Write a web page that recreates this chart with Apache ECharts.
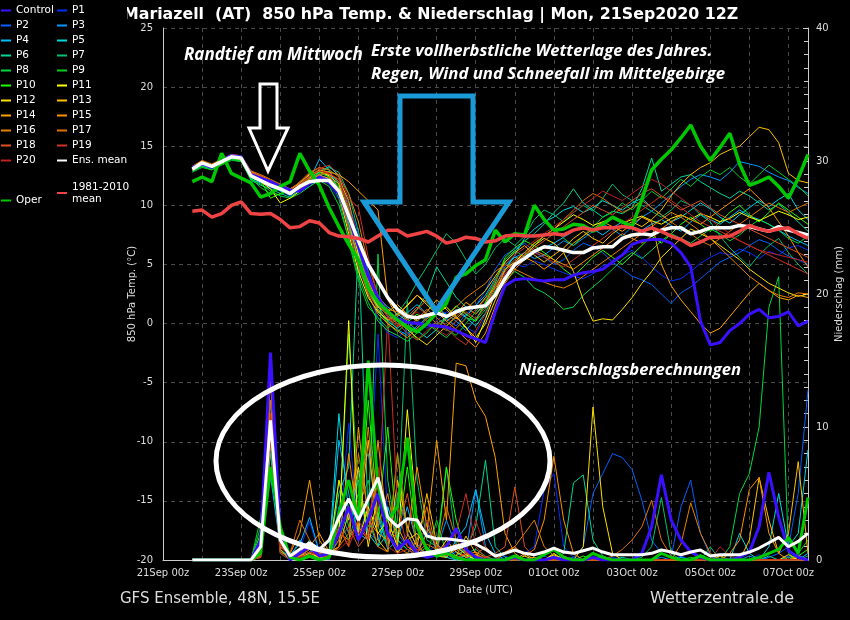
<!DOCTYPE html>
<html>
<head>
<meta charset="utf-8">
<title>Mariazell 850 hPa Temp. & Niederschlag</title>
<script src="https://cdn.jsdelivr.net/npm/echarts@6/dist/echarts.min.js"></script>
<style>
  html, body { margin: 0; padding: 0; background: #000; }
  #container { width: 850px; height: 620px; }
</style>
</head>
<body>
<div id="container"></div>
<script>
// x labels (every 2 days), forecast steps are 6-hourly from 21Sep 18z to 07Oct 12z
var xLabels = ['21Sep 00z', '23Sep 00z', '25Sep 00z', '27Sep 00z', '29Sep 00z',
               '01Oct 00z', '03Oct 00z', '05Oct 00z', '07Oct 00z'];

// 850 hPa temperature (°C)
var tControl = [13.2,13.5,13.2,13.8,14.2,14.1,12.6,12.3,12.0,11.6,
                11.3,11.2,11.9,12.4,12.0,11.0,9.0,6.5,4.0,2.2,
                1.0,0.4,0.1,0.0,-0.1,-0.2,-0.3,-0.6,-1.0,-1.3,
                -1.6,1.0,3.2,3.7,3.8,3.7,3.6,3.7,3.7,4.1,
                4.3,4.4,4.6,5.2,5.8,6.7,7.0,7.1,7.1,6.8,
                6.0,4.8,0.2,-1.8,-1.6,-0.6,0.0,0.8,1.2,0.5,
                0.6,1.0,-0.2,0.2];
var tP1 = [13.0,13.4,13.2,13.6,14.0,13.9, 12.6,12.2,11.9,11.5,11.2,11.4,11.8,12.2,11.8,
           10.5,8.0,5.0,2.5,0.5,-0.8, -1.2,-0.5,0.3,-0.4,0.2,1.0,0.5,-0.3,-0.8,0.5,2.5,
           4.2,5.0,4.8,5.3,5.0,
           4.6,4.3,4.0,3.8,4.2,4.9,5.1,5.8,6.2,5.6,4.8,4.1,3.6,3.8,4.4,5.1,5.6,6.0,5.8,6.3,6.0,5.5,6.1,5.8,6.4,6.6,6.2];
var tP2 = [13.2,13.7,13.4,13.8,14.2,14.1, 12.4,12.0,11.5,11.3,10.8,11.2,11.6,12.3,12.6,
           12.0,10.2,7.5,4.5,2.0,0.8, 0.0,-0.8,-0.4,0.6,1.2,0.4,-0.2,0.8,1.5,2.8,4.6,
           5.8,6.3,6.8,6.1,5.6,
           5.0,5.4,6.2,6.8,6.5,6.0,5.2,4.6,4.0,3.7,3.3,2.5,1.7,2.6,3.1,3.8,4.5,5.2,5.6,6.0,6.6,7.1,6.8,6.2,5.7,5.4,5.0];
var tP3 = [13.1,13.5,13.3,13.7,14.2,14.0, 12.8,12.3,12.0,11.2,11.0,11.7,12.4,12.6,12.2,
           11.5,9.5,6.0,3.0,1.2,0.4, -0.5,-1.0,-0.2,0.5,1.3,0.8,0.2,-0.6,0.4,1.6,3.2,
           4.8,5.6,6.0,5.5,5.8,
           6.4,7.0,6.6,7.2,7.8,8.4,8.0,7.4,8.2,9.0,9.5,10.2,10.9,11.6,12.2,12.6,12.4,12.1,12.8,13.7,13.5,13.3,12.8,12.4,12.1,11.5,11.0];
var tP4 = [13.0,13.4,13.1,13.6,14.0,13.8, 12.2,11.9,11.6,11.2,10.9,11.5,12.2,13.9,13.0,
           11.2,8.2,5.4,3.3,1.8,0.6, 0.2,0.9,1.6,0.8,0.0,0.5,1.2,0.6,1.5,2.4,3.8,
           5.0,5.6,5.4,6.0,6.4,
           6.8,7.3,7.8,8.3,8.0,7.5,8.1,8.6,8.2,7.9,8.4,8.8,8.3,7.8,8.6,9.2,8.8,8.4,9.0,9.6,9.1,8.8,8.4,7.9,7.4,7.0,6.6];
var tP5 = [13.2,13.6,13.3,13.7,14.1,14.0, 12.5,12.2,11.8,11.4,11.0,11.8,12.5,12.8,13.3,
           12.5,9.8,6.8,3.8,2.2,1.4, 0.8,0.2,-0.6,-1.2,-0.5,0.4,1.1,0.5,-0.2,0.9,2.7,
           4.5,5.8,7.2,8.0,8.6,
           9.0,9.6,9.9,9.4,9.8,10.4,10.0,9.6,10.2,10.6,9.8,9.2,8.6,9.0,9.6,10.2,9.7,9.0,8.5,9.2,9.8,10.4,9.9,10.5,11.0,9.6,8.8];
var tP6 = [12.9,13.3,13.1,13.5,13.9,13.8, 12.1,11.7,11.4,11.0,10.7,11.3,11.9,12.5,12.9,
           11.8,9.0,6.0,3.2,1.5,0.2, -0.4,0.4,1.2,2.5,4.8,3.5,2.2,1.4,0.8,1.8,3.6,
           5.2,6.1,7.0,7.6,8.4,
           9.4,10.2,11.4,10.2,9.6,9.0,9.5,9.3,9.8,11.4,14.0,11.2,11.8,12.4,12.6,12.0,11.5,11.0,10.6,11.2,10.8,10.2,9.6,10.1,9.4,8.6,7.8];
var tP7 = [13.1,13.5,13.2,13.6,14.0,13.9, 12.3,12.0,11.8,11.6,11.2,11.6,12.1,12.7,13.2,
           12.8,11.0,7.8,4.2,1.0,0.2, 0.9,2.0,3.5,4.8,6.2,7.6,6.8,5.4,4.2,5.0,6.4,
           7.2,6.6,7.4,8.8,9.6,
           9.2,8.6,9.4,10.0,9.5,10.6,11.8,10.9,10.4,10.0,9.5,9.0,9.6,10.4,10.0,9.2,8.6,7.4,6.4,5.6,4.8,5.8,6.6,7.2,6.0,5.0,4.2];
var tP8 = [12.9,13.3,13.0,13.5,13.9,13.7, 12.2,11.8,11.2,10.8,10.6,11.0,11.6,12.1,11.6,
           10.0,7.2,4.0,1.8,0.2,-0.6, -1.0,-1.5,-0.8,0.0,-0.6,-1.2,-0.4,0.5,0.2,1.2,2.8,
           3.6,4.4,3.9,3.0,2.6,
           2.0,1.2,1.4,2.4,3.1,3.8,4.6,5.4,6.0,5.5,6.2,7.0,7.6,7.2,6.8,7.4,8.0,7.6,7.0,7.5,8.2,8.8,8.4,7.9,7.2,6.8,7.4];
var tP9 = [12.8,13.2,13.0,13.4,13.8,13.7, 12.3,11.5,11.0,10.9,11.3,12.0,12.6,13.0,12.4,
           10.6,7.0,3.6,1.4,0.5,-0.4, 0.5,-0.2,-1.4,-0.8,0.2,-0.5,-1.0,0.0,1.0,2.2,3.6,
           5.4,6.2,5.6,6.6,7.4,
           8.0,7.2,6.6,7.4,8.2,9.0,9.4,10.2,9.6,10.4,11.2,10.6,11.4,12.2,11.6,12.4,13.0,12.6,13.2,12.4,11.8,12.6,13.4,12.8,12.2,11.6,10.8];
var tP10 = [13.0,13.4,13.1,13.5,14.0,13.8, 12.5,12.1,10.6,11.0,11.4,11.8,12.2,12.8,12.4,
            11.6,8.5,5.4,2.8,1.2,0.0, -0.7,0.1,0.8,0.2,-0.5,0.6,1.5,0.8,0.2,1.8,3.4,
            5.6,6.4,7.0,6.6,6.0,
            5.4,4.6,4.0,4.8,5.6,6.2,5.6,5.0,5.8,6.6,7.4,6.8,7.6,8.4,9.0,8.4,7.8,8.6,9.4,10.0,9.2,8.6,9.4,10.2,9.6,9.0,8.4];
var tP11 = [13.1,13.5,13.2,13.6,14.1,13.9, 12.4,12.0,11.4,10.2,10.6,11.2,12.0,12.6,12.0,
            11.0,7.6,4.4,2.2,1.0,0.3, 0.8,1.5,2.4,1.6,0.8,1.4,0.6,-0.3,-1.6,0.4,2.6,
            4.6,5.2,6.0,6.8,7.4,
            8.0,8.6,9.2,8.8,8.3,8.6,8.9,8.5,8.8,9.1,8.7,8.4,8.9,9.2,8.8,9.3,9.0,8.6,8.9,9.4,9.0,8.7,9.1,9.5,9.2,8.8,9.0];
var tP12 = [13.2,13.6,13.4,13.8,14.2,14.0, 12.7,12.3,11.8,11.3,11.1,11.8,12.4,12.9,12.5,
            11.8,9.2,5.8,3.0,1.4,0.8, 0.2,-0.5,-1.2,-1.8,-1.0,-0.2,0.6,-0.4,-1.2,0.0,2.0,
            3.8,5.0,5.8,6.6,7.2,
            6.8,6.0,4.4,2.0,0.2,0.4,0.3,1.2,2.2,3.4,4.4,5.6,6.4,7.2,8.0,7.6,7.2,6.6,6.0,5.4,4.6,4.0,3.4,3.0,2.6,2.3,2.5];
var tP13 = [13.3,13.7,13.4,13.9,14.3,14.1, 12.9,12.4,12.0,11.6,11.3,11.9,12.6,12.9,12.6,
            12.2,10.4,6.4,3.6,1.8,1.0, 1.6,0.8,0.2,1.0,2.0,1.2,0.4,1.2,2.0,2.8,4.0,
            5.2,6.0,6.6,5.8,5.2,
            5.8,6.4,7.2,7.8,7.2,6.8,7.6,8.2,8.6,8.2,8.8,9.6,10.8,11.8,12.6,13.2,13.6,14.3,14.7,15.0,15.8,16.6,16.4,15.3,12.7,12.1,11.9];
var tP14 = [13.2,13.6,13.3,13.8,14.2,14.0, 12.8,12.5,12.1,11.7,11.2,11.5,12.3,13.0,12.8,
            12.6,12.0,11.2,10.4,9.6,2.0, 0.6,1.6,2.4,1.8,1.0,0.2,0.8,1.8,1.2,2.2,3.0,
            4.0,4.8,5.6,5.2,4.6,
            5.2,6.0,6.8,7.4,8.0,8.6,8.2,7.8,8.4,9.0,8.6,5.0,3.2,2.0,1.0,0.0,-0.8,-0.4,0.6,1.6,2.6,3.4,2.8,2.2,2.0,2.4,2.2];
var tP15 = [13.0,13.5,13.2,13.6,14.1,13.9, 12.6,12.2,11.7,11.3,10.9,11.4,12.0,12.5,12.3,
            11.4,8.8,5.2,2.4,0.8,0.0, -0.6,-1.2,-0.4,0.4,1.0,0.2,-0.5,-1.3,-2.0,-0.8,1.5,
            3.4,4.6,5.4,6.2,5.8,
            5.4,5.0,4.6,5.2,5.8,6.4,7.0,7.6,7.2,6.8,7.4,8.0,8.6,9.2,8.8,8.4,9.0,9.6,10.2,10.8,11.4,10.6,9.8,8.6,7.4,6.0,4.8];
var tP16 = [13.3,13.8,13.5,13.9,14.3,14.2, 12.9,12.6,12.2,11.8,11.4,11.9,12.7,13.2,13.0,
            12.4,11.0,8.6,5.0,2.4,1.2, 1.0,0.3,1.2,2.0,1.4,0.6,1.4,2.2,2.8,3.4,4.4,
            5.0,4.6,4.2,3.8,3.5,
            3.2,3.0,3.4,4.0,4.6,5.2,5.8,6.4,7.0,7.6,8.2,8.8,9.4,9.0,8.4,7.8,7.2,6.4,5.6,4.8,4.0,3.4,2.8,2.4,2.2,2.6,2.5];
var tP17 = [13.1,13.6,13.3,13.7,14.1,14.0, 12.7,12.3,11.8,11.4,11.0,11.6,12.2,12.6,12.8,
            12.0,9.6,6.4,3.4,1.6,0.6, 0.0,-0.4,0.4,1.2,0.5,-0.2,0.6,1.4,0.8,1.6,3.2,
            4.6,5.4,6.0,6.8,7.4,
            8.0,8.8,9.6,10.4,11.0,10.6,10.0,9.4,9.8,10.4,9.8,9.2,8.6,8.0,7.6,7.0,6.6,7.2,7.8,8.4,9.0,9.6,10.2,9.8,9.4,9.8,10.2];
var tP18 = [13.2,13.7,13.4,13.8,14.2,14.1, 12.8,12.5,12.0,11.6,11.3,12.0,12.8,13.2,12.6,
            11.0,8.0,4.8,2.6,1.2,0.4, -0.2,0.6,1.4,0.8,0.0,-0.6,0.2,1.0,0.4,1.4,3.0,
            4.4,5.2,5.8,6.4,7.0,
            7.6,8.2,8.8,9.4,10.0,9.6,9.2,9.8,10.4,11.0,11.4,10.8,10.2,9.6,10.0,10.4,9.8,9.2,8.8,8.4,8.0,7.6,7.2,6.8,6.4,6.0,5.6];
var tP19 = [13.0,13.5,13.2,13.6,14.0,13.9, 12.5,12.2,11.9,11.5,11.1,11.7,12.4,13.1,13.4,
            12.6,10.6,9.8,5.6,2.2,0.8, 0.0,-0.8,-1.4,-0.6,0.2,-0.4,-1.2,-1.8,-0.6,0.8,2.6,
            4.2,5.0,5.6,6.0,5.6,
            5.2,4.8,5.4,6.0,6.6,7.2,7.8,8.4,9.0,9.6,10.2,10.8,10.4,9.8,9.2,8.6,8.2,7.8,7.4,7.0,6.6,6.2,5.8,5.4,5.0,4.6,4.2];
var tP20 = [13.1,13.5,13.3,13.7,14.1,14.0, 12.6,12.4,12.0,11.6,11.2,11.8,12.5,12.9,12.7,
            12.2,10.0,7.0,4.0,1.8,0.6, -0.3,0.4,1.0,0.2,-0.5,-1.0,-0.4,0.4,1.2,2.0,3.6,
            5.0,5.8,6.4,7.0,7.6,
            8.2,8.8,9.4,10.0,10.6,11.2,10.8,10.4,11.0,11.6,12.2,11.8,11.2,10.6,10.0,9.4,8.8,8.2,7.6,7.0,6.6,6.2,6.0,5.8,5.6,5.4,5.2];
var tOper = [12.0,12.4,12.0,14.4,12.7,12.3,11.9,10.7,11.0,11.6,
             12.0,14.4,12.9,11.7,9.8,8.2,6.7,5.4,3.0,1.8,
             1.0,0.3,-0.3,-0.7,0.0,0.9,1.7,3.9,4.2,4.9,
             5.4,7.9,6.9,7.6,7.5,10.0,8.8,7.9,8.0,8.4,
             8.3,7.8,8.4,9.0,8.6,8.2,10.5,13.0,13.9,14.7,
             15.7,16.8,15.0,13.8,14.9,16.1,13.5,11.7,12.0,12.4,
             11.6,10.6,12.3,14.3];
var tMean = [13.05,13.6,13.3,13.7,14.1,14.0,12.5,12.1,11.7,11.4,
             11.0,11.6,12.0,12.1,12.1,11.2,9.1,7.0,5.0,3.6,
             2.2,1.2,0.6,0.5,0.7,0.9,0.6,1.0,1.3,1.4,
             1.5,2.4,3.8,5.0,5.5,6.1,6.5,6.4,6.2,6.0,
             6.0,6.4,6.5,6.5,7.2,7.5,7.6,7.5,7.9,8.1,
             8.1,7.6,7.8,8.1,8.1,8.1,8.3,8.2,8.0,7.8,
             8.2,7.9,7.7,7.5];
var tClim = [9.5,9.6,9.0,9.3,10.0,10.3,9.3,9.25,9.3,8.8,
             8.1,8.2,8.7,8.5,7.7,7.4,7.35,7.2,6.9,7.4,
             7.9,7.9,7.4,7.6,7.8,7.4,6.8,7.0,7.3,7.2,
             6.9,7.0,7.4,7.5,7.4,7.4,7.5,7.6,7.5,7.9,
             8.1,7.9,8.1,8.1,8.2,8.1,7.8,8.1,7.8,7.4,
             7.1,6.6,6.9,7.3,7.3,7.4,7.8,8.3,8.0,7.8,
             8.0,8.1,7.6,7.2];

// precipitation (mm per 6 h)
var pControl = [0,0,0,0,0,0,0, 1.5,15.6,2.0,0,0.5,1.0,0.3,0.5, 2.0,4.0,1.5,3.0,5.0,2.0,0.8,1.5,
                0.5,0.2,0.4,1.0,2.4,0.8,0.2,0, 0,0,0.2,0,0,0,0.2,0, 0,0,0.2,0,0,0,0,0.5,
                2.5,6.4,3.0,1.5,0.6,0.2,0,0, 0,0.2,0.6,2.5,6.6,3.2,0.7,0.2,0];
var pP1 = [0,0,0,0,0,0,0, 1.0,12.0,1.5,0,0.8,2.9,0.5,0.3, 1.5,10.3,2.0,4.0,17.0,3.0,1.0,2.0,
           0.8,0.5,1.2,0.4,0,0.3,0,0, 0,0.3,0,0.5,1.0,5.3,6.5,1.0, 0.2,0,0,0,0.2,0,0,0,
           0,0,0,0.3,0,0,0,0, 0,0,0,0.4,0,0,0.3,0,0];
var pP2 = [0,0,0,0,0,0,0, 0.5,10.0,1.8,0.2,0,0.6,1.0,0.4, 2.5,3.0,5.0,2.0,1.5,4.0,2.0,1.0,
           0.5,2.2,1.0,0.3,0.6,0.2,0,0, 0,0,0,0,0,0.3,0,0, 0.2,1.0,5.0,6.5,8.0,7.7,6.8,4.5,
           1.5,0.5,0.2,4.0,6.0,2.0,0.3,0, 0,0,0,0,0.2,0.5,1.0,5.0,12.8];
var pP3 = [0,0,0,0,0,0,0, 0.8,9.0,0.6,0.2,1.5,0.8,0.2,0, 4.0,2.0,6.5,8.0,3.0,1.2,5.0,2.5,
           1.0,0.4,0.8,3.0,1.0,0.5,5.3,1.0, 0.2,0,0,0,0,0,0.3,0, 0,0,0,0.2,0,0,0,0,
           0,0.2,0,0,0,0,0,0, 0,0,0.3,0,0,0,0,0.4,0];
var pP4 = [0,0,0,0,0,0,0, 0.6,6.3,1.0,0.4,1.2,3.2,0.6,0.3, 9.0,5.0,2.0,1.5,3.5,0.8,1.5,4.0,
           1.2,0.3,0.6,0.2,1.5,2.5,5.3,2.0, 0.5,0,0,0,0,0,0,0.3, 0,0,0,0,0,0,0,0,
           0,0,0,0.2,0,0,0,0, 0,0,0,0,0,0,0,0,0.5];
var pP5 = [0,0,0,0,0,0,0, 1.2,8.0,1.5,0,0.3,0.8,0.4,0.6, 11.0,3.5,6.0,2.0,1.0,4.0,1.5,0.8,
           0.3,3.0,0.6,0.2,0,0.4,0,0, 0,0,0,0,0,0,0,0, 0,0,0,0,0,0.2,0,0,
           0,0,0,0,0,0,0,0, 0,2.0,0.5,0,1.0,5.0,1.0,2.0,8.3];
var pP6 = [0,0,0,0,0,0,0, 0.4,9.5,0.8,0.2,0.5,1.5,0.3,0.8, 5.0,7.0,24.0,3.0,1.0,2.0,0.5,1.5,
           0.4,0.2,0.6,1.0,0.3,0.8,2.5,7.5, 1.0,0.2,0,0,0,0,0,0.5, 5.8,6.4,1.5,0.3,0,0,0,0,
           0,0,0,0,0,0,0,0, 0,0,0,0,0.3,0,0,0,0];
var pP7 = [0,0,0,0,0,0,0, 0.3,8.5,0.5,0,0.2,0.4,0,0.6, 3.0,1.5,4.0,6.0,2.5,1.0,3.0,19.5,
           6.0,1.5,1.0,7.0,1.2,0.5,0.8,0.3, 0,0,0.2,0,0,0,0,0, 0,0,0,0,0,0,0,0.2,
           1.0,4.7,0.5,0,0,0,1.0,0, 0,0,0,0,0,0,0.2,0,0.3];
var pP8 = [0,0,0,0,0,0,0, 2.5,10.0,1.2,0.3,0,0.2,0.4,0.2, 6.0,2.5,5.0,3.0,23.0,6.0,1.5,0.8,
           0.4,1.0,0.2,0.5,0,0,0.3,0, 0,0,0,0,0.2,0,0,0, 0,0,0,0,0,0,0,0,
           0,0,0,0,0,0,0,0, 1.0,5.0,6.5,10.0,19.0,21.3,0.5,0,0];
var pP9 = [0,0,0,0,0,0,0, 3.2,11.0,0.8,0,0.4,0.2,0,0.5, 2.0,17.0,5.0,2.5,4.0,1.0,8.0,2.0,
           0.6,0.3,3.0,0.5,0.2,0,0,0, 0,0,0,0,0,0,0,0, 0,0,0,0.3,0,0,0,0,
           0,0,0,0,0.2,0,0,0, 0,0,0,0,0,0,0,0.5,1.5];
var pP10 = [0,0,0,0,0,0,0, 2.0,10.0,2.2,0.2,0.5,0.3,0.2,0.4, 1.5,4.0,2.0,12.0,3.0,10.0,1.5,7.0,
            1.0,0.5,0.3,7.0,3.0,0.5,0,0, 0,0,0.3,0,0,0,0,0, 0,0.3,0,0,0,0,0,0,
            0,0,0,0,0,0.4,0,0, 0,0,0,0,0,0,0,0.3,0.8];
var pP11 = [0,0,0,0,0,0,0, 0.5,10.0,1.0,0.4,0.2,0.5,0.2,0.3, 2.0,18.0,1.5,4.0,2.0,3.0,1.0,11.3,
            3.0,0.6,0.3,0.2,1.0,0.4,0,0, 0,0,0,0,0,0,0.4,0, 0,0,0,0,0,0,0,0,
            0,0,0,0,0,0,0,0, 0,0,0,0,0,0,0,0.2,0];
var pP12 = [0,0,0,0,0,0,0, 0.2,9.0,1.5,0.2,0.6,1.2,0.8,0.4, 6.0,3.0,7.0,1.0,5.0,2.0,0.6,1.5,
            2.0,0.8,0.4,1.5,0.6,0.2,0.4,0, 0,0,0,0.3,0,0,0.5,0, 0,1.0,11.5,4.0,0.5,0,0,0,
            0,0,0,0,0,0,0,0, 0,0,0,0,0,0,0.4,0,0];
var pP13 = [0,0,0,0,0,0,0, 0.4,11.0,0.8,0,0.3,0.6,0.2,0.5, 1.0,3.5,2.0,9.0,1.5,0.6,6.0,2.5,
            1.0,5.0,1.2,0.5,0.3,1.8,0.5,0, 0,0,0,0.5,0,0,0,0, 0,0,0,0,0,0,0,0,
            0,0,0,0,0,0,0,0, 0,0,1.5,6.2,3.0,0.5,2.0,7.4,0.5];
var pP14 = [0,0,0,0,0,0,0, 0.8,13.8,1.5,0.5,2.0,6.0,1.5,0.4, 2.5,1.0,10.0,3.0,2.0,1.5,2.5,1.0,
            0.5,2.0,9.0,3.0,14.8,14.6,12.0,10.8, 7.7,2.0,0.5,0,0.2,0,0,0, 0,0,0,0,0,0,0,0,
            0,0,0,0,0,0,0,0.3, 0,0,0,0,0,0,0,0,0];
var pP15 = [0,0,0,0,0,0,0, 0.6,13.5,2.0,0.3,0.5,1.0,2.0,0.6, 1.0,8.0,2.5,1.5,9.0,2.0,0.5,1.8,
            7.0,2.5,1.0,0.5,0.2,0.4,0.6,0.2, 0,0.5,1.0,0.3,0.8,3.0,7.8,3.0, 0.5,0,0,0,0,0,0,0,
            0,0,0,0,0,0,0,0, 0.5,1.5,5.3,6.2,2.0,0.5,0,0,0];
var pP16 = [0,0,0,0,0,0,0, 1.0,12.0,0.6,0.2,0.3,0.8,0.5,0.2, 2.0,1.5,3.0,10.0,2.5,5.0,1.0,0.5,
            1.5,4.0,0.6,0.3,0.8,0.2,0.4,1.0, 0.3,0.6,1.0,2.0,3.0,1.0,0.3,0, 0,0,0,0,0,0,0,0,
            0,0,0,1.2,4.3,2.0,0.5,0, 0,0,0,0,0,0,0,0,0];
var pP17 = [0,0,0,0,0,0,0, 0.7,11.0,1.0,0.5,3.0,1.5,0.4,0.2, 1.0,2.0,8.0,3.5,1.0,0.6,8.0,2.0,
            0.6,1.2,0.8,4.0,1.5,0.5,0.2,0, 0,0,0,0,0,0,0,0, 0,0,0,0,0.3,0.8,1.5,2.5,
            4.5,1.5,0.3,0,0,0,0,0, 0,0,0,0,0,0,0,0.3,0];
var pP18 = [0,0,0,0,0,0,0, 0.3,10.0,1.2,0.2,0.4,0.8,0.2,0.5, 1.5,2.5,1.0,2.0,6.0,1.5,2.0,5.0,
            1.0,0.5,0.3,0.8,1.2,0.6,0.3,0.2, 0.5,1.0,5.5,1.0,0.2,0,0,0, 0,0,0,0,0,0,0,0,
            0,0,0,0,0,0,0,0, 0,0,0,0,0,0,0,0,0];
var pP19 = [0,0,0,0,0,0,0, 0.5,11.0,1.0,0.3,0.2,0.6,0.3,0.2, 2.5,1.0,3.0,1.5,4.0,18.3,4.0,1.0,
            0.8,0.4,0.6,1.2,2.0,5.0,1.0,0.2, 0,0,0,0,0,0,0,0, 0,0,0,0,0,0,0,0,
            0,0,0,0,0,0,0,0, 0,0,0,0,0,0,0,0,0];
var pP20 = [0,0,0,0,0,0,0, 0.2,9.0,0.5,0,0.2,0.4,0.6,0.3, 0.8,1.5,2.0,3.0,7.0,1.0,0.5,0.8,
            0.4,3.0,1.0,0.4,0.2,0.5,3.0,0.8, 0.2,0,0,0,0,0,0,0, 0,0,0,0,0,0,0,0,
            0,0,0,0,0,0,0,1.0, 0.3,0,0,0,0,0,0,0,0];
var pOper = [0,0,0,0,0,0,0, 0.5,7.0,2.5,0.2,0,0.3,0,0.2, 3.5,6.0,3.0,15.0,5.5,3.0,4.0,9.2,
             2.5,0.8,0.3,0.5,0.2,0,0,0, 0,0,0.3,0,0,0.4,0.8,0.2, 0,0,0.5,0.2,0,0,0,0,
             0,0.5,0.2,0,0,0.3,0,0, 0,0,0,0.2,0.5,0.8,1.7,0.5,4.7];
var pMean = [0,0,0,0,0,0,0,1.0,10.5,1.5,
             0.3,0.8,1.3,0.8,1.5,3.2,4.6,3.0,4.6,6.2,
             3.2,2.5,3.1,3.0,1.8,1.6,1.6,1.5,1.4,1.2,
             0.8,0.3,0.5,0.75,0.5,0.4,0.6,0.9,0.6,0.5,
             0.7,0.9,0.6,0.4,0.4,0.4,0.4,0.5,0.75,0.6,
             0.4,0.6,0.75,0.3,0.4,0.4,0.4,0.6,0.9,1.3,
             1.7,1.0,1.4,2.0];

var dom = document.getElementById('container');
var myChart = echarts.init(dom, null, { renderer: 'canvas' });

// hours after 21Sep 00z of each forecast step
var hours = [];
for (var h = 18; h <= 396; h += 6) hours.push(h);

function pairs(vals) {
  return vals.map(function (v, i) { return [hours[i], v]; });
}

var members = [
  { name: 'P1',  color: '#0030ff', t: tP1,  p: pP1 },
  { name: 'P2',  color: '#0060ff', t: tP2,  p: pP2 },
  { name: 'P3',  color: '#0098ff', t: tP3,  p: pP3 },
  { name: 'P4',  color: '#00c0ff', t: tP4,  p: pP4 },
  { name: 'P5',  color: '#00d8e0', t: tP5,  p: pP5 },
  { name: 'P6',  color: '#00d898', t: tP6,  p: pP6 },
  { name: 'P7',  color: '#00c070', t: tP7,  p: pP7 },
  { name: 'P8',  color: '#00d840', t: tP8,  p: pP8 },
  { name: 'P9',  color: '#00d020', t: tP9,  p: pP9 },
  { name: 'P10', color: '#20ff00', t: tP10, p: pP10 },
  { name: 'P11', color: '#ffff00', t: tP11, p: pP11 },
  { name: 'P12', color: '#ffe000', t: tP12, p: pP12 },
  { name: 'P13', color: '#ffc000', t: tP13, p: pP13 },
  { name: 'P14', color: '#ffa000', t: tP14, p: pP14 },
  { name: 'P15', color: '#ff9000', t: tP15, p: pP15 },
  { name: 'P16', color: '#e88000', t: tP16, p: pP16 },
  { name: 'P17', color: '#e07000', t: tP17, p: pP17 },
  { name: 'P18', color: '#e05020', t: tP18, p: pP18 },
  { name: 'P19', color: '#d03020', t: tP19, p: pP19 },
  { name: 'P20', color: '#c02020', t: tP20, p: pP20 }
];
var cControl = '#3a10ff', cOper = '#00c800', cMean = '#ffffff', cClim = '#f04444';

function line(name, color, vals, axis, width, z) {
  return {
    name: name, type: 'line', yAxisIndex: axis, data: pairs(vals),
    color: color, symbol: 'none', showSymbol: false, silent: true,
    lineStyle: { color: color, width: width }, z: z,
    emphasis: { disabled: true }
  };
}

var series = [];
members.forEach(function (m) { series.push(line(m.name, m.color, m.p, 1, 1, 2)); });
members.forEach(function (m) { series.push(line(m.name, m.color, m.t, 0, 1, 3)); });
series.push(line('Control', cControl, pControl, 1, 3, 4));
series.push(line('Oper', cOper, pOper, 1, 3, 4));
series.push(line('Ens. mean', cMean, pMean, 1, 3, 5));
series.push(line('Control', cControl, tControl, 0, 3, 4));
series.push(line('Oper', cOper, tOper, 0, 3.5, 4));
series.push(line('Ens. mean', cMean, tMean, 0, 3.5, 5));
series.push(line('1981-2010 mean', cClim, tClim, 0, 3.5, 6));

function legendAt(left, top, data, lh) {
  return {
    orient: 'vertical', icon: 'rect', itemWidth: 10, itemHeight: 2, itemGap: 0, padding: 0,
    selectedMode: false, z: 20, left: left, top: top, data: data,
    textStyle: { color: '#fff', fontSize: 10.5, fontFamily: 'DejaVu Sans', lineHeight: lh || 15 },
    formatter: function (n) { return n === '1981-2010 mean' ? '1981-2010\nmean' : n; }
  };
}

var axisText = { color: '#ddd', fontSize: 10, fontFamily: 'DejaVu Sans' };

option = {
  backgroundColor: '#000',
  animation: false,
  title: {
    text: 'Mariazell  (AT)  850 hPa Temp. & Niederschlag | Mon, 21Sep2020 12Z',
    left: 118, top: 2, z: 6,
    textStyle: { color: '#fff', fontSize: 15.8, fontWeight: 'bold', fontFamily: 'DejaVu Sans' }
  },
  legend: [
    legendAt(1, 3, ['Control', 'P2', 'P4', 'P6', 'P8', 'P10', 'P12', 'P14', 'P16', 'P18', 'P20']),
    legendAt(57, 3, ['P1', 'P3', 'P5', 'P7', 'P9', 'P11', 'P13', 'P15', 'P17', 'P19', 'Ens. mean']),
    legendAt(57, 181, ['1981-2010 mean'], 12),
    legendAt(1, 193, ['Oper'])
  ],
  grid: { left: 163, right: 42, top: 28, bottom: 60, outerBoundsMode: 'none' },
  xAxis: {
    type: 'value', min: 0, max: 396, interval: 24,
    axisLine: { onZero: false, lineStyle: { color: '#ccc' } },
    axisTick: { show: false },
    axisLabel: {
      color: '#ddd', fontSize: 10, fontFamily: 'DejaVu Sans', margin: 8,
      formatter: function (v) { var d = v / 24; return d % 2 === 0 ? xLabels[d / 2] : ''; }
    },
    splitLine: { show: true, lineStyle: { color: '#4a4a4a', type: [4, 4] } },
    name: 'Date (UTC)', nameLocation: 'middle', nameGap: 25,
    nameTextStyle: axisText
  },
  yAxis: [
    {
      type: 'value', min: -20, max: 25, interval: 5, position: 'left',
      axisLine: { show: true, onZero: false, lineStyle: { color: '#ccc' } },
      axisTick: { show: false },
      axisLabel: { color: '#ddd', fontSize: 10, fontFamily: 'DejaVu Sans', margin: 10 },
      splitLine: { show: true, lineStyle: { color: '#4a4a4a', type: [4, 4] } },
      name: '850 hPa Temp. (°C)', nameLocation: 'middle', nameGap: 26, nameRotate: 90,
      nameMoveOverlap: false,
      nameTextStyle: axisText
    },
    {
      type: 'value', min: 0, max: 40, interval: 10, position: 'right',
      axisLine: { show: true, onZero: false, lineStyle: { color: '#ccc' } },
      axisTick: { show: true, inside: true, length: 5, lineStyle: { color: '#ccc' } },
      minorTick: { show: true, splitNumber: 10, length: 4, lineStyle: { color: '#ccc' } },
      axisLabel: { color: '#ddd', fontSize: 10, fontFamily: 'DejaVu Sans', margin: 8 },
      splitLine: { show: false },
      name: 'Niederschlag (mm)', nameLocation: 'middle', nameGap: 26, nameRotate: 90,
      nameMoveOverlap: false,
      nameTextStyle: axisText
    }
  ],
  graphic: [
    { type: 'rect', z: 8, shape: { x: 0, y: 0, width: 127, height: 24 }, style: { fill: '#000' } },
    { type: 'text', z: 100, style: { text: 'GFS Ensemble, 48N, 15.5E', x: 120, y: 599, fill: '#ddd',
      font: '15px "DejaVu Sans"', verticalAlign: 'middle' } },
    { type: 'text', z: 100, style: { text: 'Wetterzentrale.de', x: 650, y: 599, fill: '#ddd',
      font: '16px "DejaVu Sans"', verticalAlign: 'middle' } },
    { type: 'text', z: 100, style: { text: 'Randtief am Mittwoch', x: 184, y: 55, fill: '#fff',
      font: 'italic bold 17px "Open Sans"', verticalAlign: 'middle', shadowColor: '#000', shadowBlur: 4 } },
    { type: 'text', z: 100, style: { text: 'Erste vollherbstliche Wetterlage des Jahres.', x: 371, y: 51, fill: '#fff',
      font: 'italic bold 16.6px "Open Sans"', verticalAlign: 'middle', shadowColor: '#000', shadowBlur: 4 } },
    { type: 'text', z: 100, style: { text: 'Regen, Wind und Schneefall im Mittelgebirge', x: 371, y: 74, fill: '#fff',
      font: 'italic bold 16.8px "Open Sans"', verticalAlign: 'middle', shadowColor: '#000', shadowBlur: 4 } },
    { type: 'text', z: 100, style: { text: 'Niederschlagsberechnungen', x: 519, y: 370, fill: '#fff',
      font: 'italic bold 16.6px "Open Sans"', verticalAlign: 'middle', shadowColor: '#000', shadowBlur: 4 } },
    { type: 'polygon', z: 100,
      shape: { points: [[260, 84], [277, 84], [277, 128], [288, 128], [268, 171], [249, 128], [260, 128]] },
      style: { fill: 'none', stroke: '#fff', lineWidth: 3 } },
    { type: 'polygon', z: 100,
      shape: { points: [[400, 96], [473, 96], [473, 202], [509, 202], [436, 311], [364, 202], [400, 202]] },
      style: { fill: 'none', stroke: '#1a9ad6', lineWidth: 5 } },
    { type: 'ellipse', z: 100,
      shape: { cx: 383, cy: 461, rx: 167, ry: 96 },
      style: { fill: 'none', stroke: '#fff', lineWidth: 5 } }
  ],
  series: series
};

myChart.setOption(option);
window.onresize = function () { myChart.resize(); };
</script>
</body>
</html>
